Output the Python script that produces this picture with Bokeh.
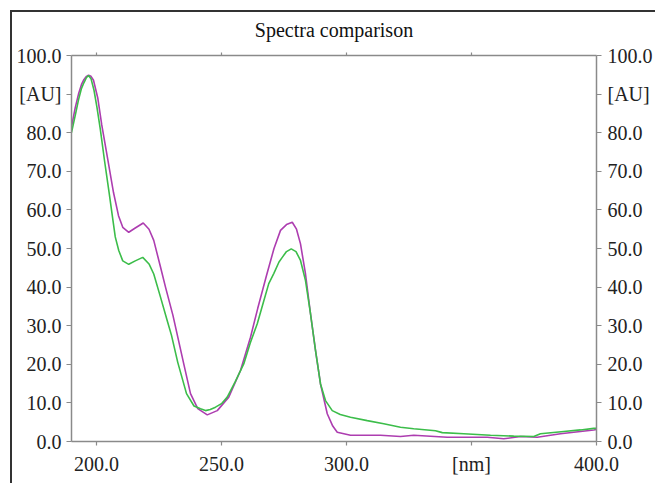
from bokeh.plotting import figure
from bokeh.models import Range1d, LinearAxis, FixedTicker, NumeralTickFormatter, Title, InlineStyleSheet
from bokeh.embed import file_html
from bokeh.resources import INLINE

# ---- data ----
wl_magenta = [190, 191.5, 192.8, 194, 195, 196, 196.8, 197.8, 198.8, 200.5, 202.1, 204.8,
              206.8, 208.8, 210.5, 212.9, 215.5, 218.7, 221, 222.9, 225.6, 227.6, 230.6,
              234.9, 237.6, 240.5, 244.3, 248.3, 252.9, 257.6, 261.6, 264.5, 268.0, 271,
              273.6, 276, 278.3, 280, 281.6, 283.6, 285.6, 287.6, 289.6, 292.3, 294.5,
              296.3, 301.6, 313.6, 321.6, 326.9, 340.3, 356.3, 362.9, 369.6, 376.3, 385.6,
              390.9, 398.9, 400]
abs_magenta = [81.5, 86.5, 90.0, 92.5, 93.8, 94.6, 94.9, 94.6, 93.6, 89.0, 82.0, 72.0,
               64.5, 58.5, 55.5, 54.2, 55.3, 56.6, 55.0, 52.1, 45.2, 40.0, 32.6,
               20.1, 12.4, 8.5, 6.9, 8.0, 11.5, 18.4, 27.0, 34.5, 43.0, 50.0,
               54.7, 56.2, 56.8, 55.0, 51.2, 43.4, 33.1, 23.6, 14.9, 7.2, 4.0,
               2.4, 1.6, 1.6, 1.3, 1.6, 1.1, 1.1, 0.7, 1.3, 1.1, 2.0,
               2.4, 3.0, 3.1]

wl_green = [190, 191.5, 192.8, 194, 195, 196, 196.8, 197.8, 199, 200.2, 201.5, 203.2,
            205.1, 206.4, 207.5, 208.9, 210.5, 212.9, 215.5, 218.5, 221, 222.9, 225.6,
            228.3, 230.0, 232.5, 236.0, 239, 241.6, 243.6, 245.5, 247.6, 250, 252.3,
            255.5, 258.9, 261.5, 264.3, 266.5, 268.9, 270.9, 273, 274.3, 276, 277.9,
            279.8, 281.6, 283.6, 285.6, 287.6, 289.6, 291.6, 294.3, 297.5, 301.6, 308.3,
            314.9, 321.6, 326.9, 335.6, 338.3, 346.9, 357.6, 366.9, 374.9, 377.6, 386.9,
            393.6, 398.9, 400]
abs_green = [80.0, 84.5, 88.5, 91.5, 93.0, 94.3, 94.8, 94.0, 91.0, 86.5, 81.0, 72.8,
             64.2, 58.1, 53.0, 49.5, 46.8, 45.9, 46.8, 47.7, 46.0, 43.4, 37.4,
             31.3, 27.5, 20.5, 12.4, 9.2, 8.5, 8.0, 8.3, 8.9, 9.8, 11.5,
             15.5, 20.1, 25.5, 30.5, 35.5, 40.9, 43.5, 46.5, 47.7, 49.2, 49.9,
             49.2, 46.9, 41.7, 33.1, 23.6, 14.9, 10.6, 8.0, 7.0, 6.3, 5.4,
             4.6, 3.7, 3.3, 2.8, 2.3, 2.0, 1.6, 1.4, 1.3, 2.0, 2.6,
             3.0, 3.4, 3.4]

x_ticks = [200, 250, 300, 350, 400]
x_top_ticks = [200, 250, 300, 350]
y_ticks = [0, 10, 20, 30, 40, 50, 60, 70, 80, 90, 100]
x_unit_label = {350: "[nm]"}
y_unit_label = {90: "[AU]"}
title_text = "Spectra comparison"

FONT = "Liberation Serif"
AXIS_COLOR = "#8a8a8a"
LABEL_COLOR = "#222222"

p = figure(width=655, height=483, output_backend="svg", toolbar_location=None,
           x_range=Range1d(190, 400), y_range=Range1d(0, 100),
           min_border_left=71, min_border_right=59, min_border_top=55, min_border_bottom=42)
p.outline_line_color = None
p.xgrid.visible = False
p.ygrid.visible = False
p.background_fill_color = "white"
p.border_fill_color = "white"
p.stylesheets = [InlineStyleSheet(css=(
    ":host { position: relative; }"
    ":host::after { content: ''; position: absolute; left: 10px; top: 10px; "
    "width: 645px; height: 473px; box-sizing: border-box; "
    "border-top: 2px solid #333333; border-left: 2px solid #333333; "
    "pointer-events: none; z-index: 10; }"))]

p.title = Title(text=title_text, align="center", text_font=FONT, text_font_size="20px",
                text_font_style="normal", text_color="#111111", standoff=23, offset=8)


def style_axis(ax, ticks, overrides, labels=True, tick_out=5, standoff=5):
    ax.ticker = FixedTicker(ticks=ticks)
    ax.formatter = NumeralTickFormatter(format="0.0")
    ax.major_label_overrides = overrides
    ax.axis_line_color = AXIS_COLOR
    ax.axis_line_width = 1.5
    ax.major_tick_line_color = AXIS_COLOR
    ax.major_tick_line_width = 1.2
    ax.major_tick_out = tick_out
    ax.major_tick_in = 0
    ax.minor_tick_line_color = None
    ax.major_label_text_font = FONT
    ax.major_label_text_color = LABEL_COLOR
    ax.major_label_standoff = standoff
    ax.major_label_text_font_size = "20px"
    if not labels:
        ax.major_label_text_alpha = 0


style_axis(p.xaxis[0], x_ticks, x_unit_label, tick_out=4, standoff=7)
style_axis(p.yaxis[0], y_ticks, y_unit_label, tick_out=5, standoff=5)

right_axis = LinearAxis()
style_axis(right_axis, y_ticks, y_unit_label, tick_out=5, standoff=6)
p.add_layout(right_axis, "right")

top_axis = LinearAxis()
style_axis(top_axis, x_top_ticks, {t: "" for t in x_top_ticks}, labels=False, tick_out=3, standoff=0)
p.add_layout(top_axis, "above")

p.line(wl_magenta, abs_magenta, line_color="#ad3db0", line_width=1.6)
p.line(wl_green, abs_green, line_color="#3cbd4a", line_width=1.6)

open("out.html", "w").write(file_html(p, INLINE))
